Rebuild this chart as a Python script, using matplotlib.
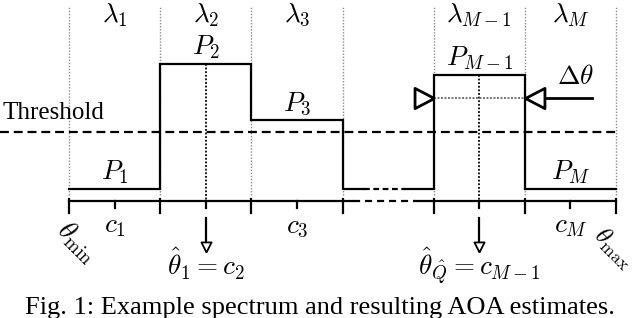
import matplotlib
matplotlib.use("Agg")
import matplotlib.pyplot as plt

plt.rcParams["font.family"] = ["Liberation Serif", "DejaVu Serif"]
plt.rcParams["mathtext.fontset"] = "cm"

# spectrum bins (angle axis in bin units, power in arbitrary units)
edges = [0, 1, 2, 3, 4, 5, 6]
power = [0.12, 1.37, 0.81, 0.12, 1.26, 0.12]
threshold = 0.69
bin_labels = [r"$\lambda_1$", r"$\lambda_2$", r"$\lambda_3$", None,
              r"$\lambda_{M-1}$", r"$\lambda_M$"]
power_labels = [r"$P_1$", r"$P_2$", r"$P_3$", None, r"$P_{M-1}$", r"$P_M$"]
center_labels = [r"$c_1$", None, r"$c_3$", None, None, r"$c_M$"]
estimate_bins = [1, 4]
estimate_labels = [r"$\hat{\theta}_1 = c_2$", r"$\hat{\theta}_{\hat{Q}} = c_{M-1}$"]
gap_bin = 3  # bin drawn with a break
caption = "Fig. 1: Example spectrum and resulting AOA estimates."

FS = 19.5
LW = 1.6

fig = plt.figure(figsize=(6.4, 3.18), dpi=100)
ax = fig.add_axes([0, 0, 1, 1])
ax.set_xlim(-69 / 91.17, 571 / 91.17)
ax.set_ylim(-1.17, 2.01)
ax.axis("off")

centers = [(edges[i] + edges[i + 1]) / 2 for i in range(len(power))]

# grey bin boundaries
for e in edges:
    ax.plot([e, e], [0.06, 1.94], color="0.55", ls=(0, (1, 1.2)), lw=1.0, zorder=1)

# threshold
ax.plot([ax.get_xlim()[0], edges[-1]], [threshold] * 2, color="k",
        ls=(0, (4, 2.2)), lw=LW, zorder=2)
ax.text(-0.725, threshold + 0.19, "Threshold", fontsize=18, ha="left", va="center")

# step spectrum, split around the gap bin
a, b = edges[gap_bin], edges[gap_bin + 1]
cut1, cut2 = a + 0.24, a + 0.68
xs, ys = [edges[0]], [power[0]]
for i in range(1, len(power)):
    xs += [edges[i], edges[i]]
    ys += [power[i - 1], power[i]]
xs.append(edges[-1])
ys.append(power[-1])
left_x = [x for x in xs if x <= a] + [cut1]
left_y = ys[:len(left_x) - 1] + [power[gap_bin]]
right_x = [cut2] + [x for x in xs if x >= b]
right_y = [power[gap_bin]] + ys[len(ys) - len(right_x) + 1:]
ax.plot(left_x, left_y, color="k", lw=LW, zorder=3, solid_joinstyle="miter")
ax.plot(right_x, right_y, color="k", lw=LW, zorder=3, solid_joinstyle="miter")
ax.plot([cut1, cut2], [power[gap_bin]] * 2, color="k", lw=LW,
        ls=(0, (2.6, 1.6)), zorder=3)

# angle axis with break
ax.plot([edges[0], a + 0.115], [0, 0], color="k", lw=LW, zorder=3)
ax.plot([a + 0.115, a + 0.795], [0, 0], color="k", lw=LW, ls=(0, (3.2, 2.2)), zorder=3)
ax.plot([a + 0.795, edges[-1]], [0, 0], color="k", lw=LW, zorder=3)
for e in edges:
    ax.plot([e, e], [0.02, -0.12], color="k", lw=LW, zorder=3)
for i, c in enumerate(centers):
    if i != gap_bin:
        ax.plot([c, c], [0, -0.07], color="k", lw=LW, zorder=3)

# labels
for c, lab in zip(centers, bin_labels):
    if lab:
        ax.text(c, 1.86, lab, fontsize=FS, ha="center", va="center")
for c, p, lab in zip(centers, power, power_labels):
    if lab:
        ax.text(c, p + 0.165, lab, fontsize=FS, ha="center", va="center")
for c, lab in zip(centers, center_labels):
    if lab:
        ax.text(c, -0.255, lab, fontsize=FS, ha="center", va="center")
ax.text(0.088, -0.41, r"$\theta_{\min}$", fontsize=FS, ha="center", va="center",
        rotation=-45)
ax.text(5.97, -0.47, r"$\theta_{\max}$", fontsize=18, ha="center", va="center",
        rotation=-45)

# estimates: dotted centre line + down arrow
down_tri = [(0, 0), (-0.5, 1), (0.5, 1), (0, 0)]
for k, lab in zip(estimate_bins, estimate_labels):
    c = centers[k]
    ax.plot([c, c], [power[k], 0], color="k", ls=(0, (1, 1)), lw=1.3, zorder=2)
    ax.plot([c, c], [-0.17, -0.44], color="k", lw=LW, zorder=3)
    ax.plot([c], [-0.51], marker=down_tri, ms=14.5, mfc="white", mec="k",
            mew=1.3, zorder=4)
    ax.text(c, -0.74, lab, fontsize=FS, ha="center", va="baseline")

# beam width marker on the M-1 bin
k = estimate_bins[-1]
ym = 1.03
ax.plot([edges[k], edges[k + 1]], [ym, ym], color="0.45", ls=(0, (1, 0.8)),
        lw=1.4, zorder=2)
ax.plot([edges[k + 1], edges[k + 1] + 0.74], [ym, ym], color="k", lw=2.0, zorder=3)
right_tri = [(0, 0), (-1, 0.52), (-1, -0.52), (0, 0)]
left_tri = [(0, 0), (1, 0.52), (1, -0.52), (0, 0)]
ax.plot([edges[k]], [ym], marker=right_tri, ms=28, mfc="white", mec="k", mew=2.0,
        zorder=4)
ax.plot([edges[k + 1]], [ym], marker=left_tri, ms=28, mfc="white", mec="k", mew=2.0,
        zorder=4)
ax.text(5.56, 1.23, r"$\Delta\theta$", fontsize=FS, ha="center", va="center")

fig.text(0.5, 1 - 314 / 318, caption, fontsize=19, ha="center", va="baseline")

fig.savefig("out.png", dpi=100)
